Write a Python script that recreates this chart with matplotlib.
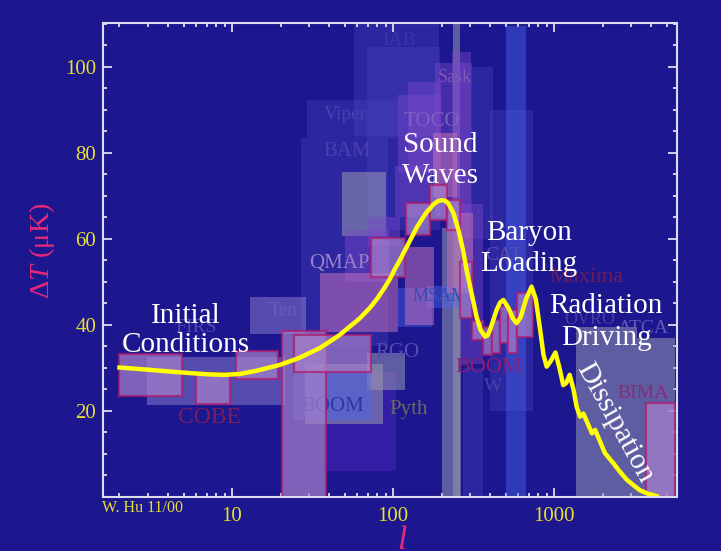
import matplotlib
matplotlib.use('Agg')
import matplotlib.pyplot as plt
from matplotlib.ticker import MultipleLocator, LogLocator, NullFormatter

plt.rcParams['font.family'] = ['Liberation Serif', 'DejaVu Serif']
plt.rcParams['mathtext.fontset'] = 'custom'
plt.rcParams['mathtext.rm'] = 'Liberation Serif'
plt.rcParams['mathtext.it'] = 'Liberation Serif:italic'

# curva teorica (l, Delta T en muK)
curva_l = [2, 3, 4, 5.5, 7.3, 9, 11.2, 14, 19.8, 26, 35, 46, 62, 72, 80, 88, 95, 102, 110,
           125, 141, 160, 178, 190, 200, 210, 220, 237, 255, 272, 286, 300, 315, 330,
           350, 372, 385, 400, 420, 440, 462, 484, 520, 555, 585, 620, 670, 725, 770,
           820, 860, 900, 950, 1020, 1080, 1140, 1190, 1250, 1320, 1380, 1450, 1520,
           1600, 1720, 1800, 1900, 2070, 2200, 2340, 2550, 2830, 3100, 3400, 3800, 4340]
curva_dT = [30.1, 29.6, 29.2, 28.8, 28.5, 28.4, 28.6, 29.3, 30.7, 32.3, 34.6, 37.5,
            41.5, 44, 46.2, 48.5, 50.5, 52.8, 55, 59, 62.8, 66, 68, 68.8, 69, 68.9, 68.3,
            66, 62, 57.4, 52.8, 49.2, 45.5, 41.9, 38.8, 37.3, 37.5, 38.8, 41.2, 43.5,
            45.2, 45.8, 44, 41.5, 40.4, 41.8, 46, 48.9, 46, 38.8, 33, 30.3, 31.5, 33.6,
            30, 26, 26.5, 28.4, 25, 21, 18.7, 19.4, 17.5, 14.8, 15.6, 13.5, 10.2, 9,
            7.8, 6, 4.0, 2.8, 1.6, 0.8, 0.2]

# cajas de los experimentos: l_min, l_max, dT_bajo, dT_alto, tipo
caja_lmin = [57, 69, 29.2, 26.8, 310, 400, 272,
             38.4,
             2.97, 12.9,
             48.2, 28.4, 69, 201, 236, 1371, 3281,
             504, 24.3, 107, 160,
             182, 232, 107, 124, 50, 260, 70, 103,
             35.2, 177, 119, 216,
             1.99, 5.97, 10.6, 20.4, 24.3, 72.8, 120.5, 170, 216, 260,
             308, 363, 411, 461, 520, 590, 3725]
caja_lmax = [193, 196, 107, 93, 418, 740, 362,
             104,
             21.3, 28.8,
             90.6, 86.7, 119, 264, 261, 3281, 5650,
             670, 72.6, 174, 260,
             310, 306, 199, 199, 95, 362, 110, 174,
             107, 250, 180, 315,
             4.89, 9.7, 19.3, 38.4, 72.6, 119, 170, 216, 260, 310,
             363, 411, 461, 520, 588, 741, 5650]
caja_bajo = [84, 62, 83.5, 35, 60, 20, 0,
             6,
             21.4, 38,
             60.7, 17, 24.9, 0, 0, 0, 0,
             0, 17.9, 39.5, 44,
             65, 60, 75.6, 75, 50, 31, 58.4, 65,
             38.4, 69.8, 40, 47.4,
             23.5, 21.6, 27.4, 0, 29.1, 51.2, 61, 64.4, 62, 41.6,
             36.5, 33, 33.4, 35.7, 33.4, 37.2, 0]
caja_alto = [110, 104.6, 92.3, 83.5, 100, 90, 30,
             29,
             32.6, 46.5,
             75.6, 31, 33.5, 62.5, 111, 39.5, 37,
             109.5, 29.1, 48.6, 49,
             101, 103.5, 93.5, 96.5, 62, 68, 65, 77,
             52.1, 84.7, 58, 66,
             33.3, 28.8, 34, 38.6, 37.7, 60.2, 68.4, 72.6, 69, 54.7,
             40.8, 39.6, 41.2, 44.3, 43.5, 47.4, 21.9]
caja_tipo = ['dim'] * 7 + ['dimpurple'] + ['lav'] * 2 + ['gray'] * 7 + ['blue'] * 4 + \
            ['purple'] * 8 + ['pink'] * 4 + ['pinkedge'] * 17

# nombres de experimentos
exp_nombre = ['IAB', 'Sask', 'Viper', 'TOCO', 'BAM', 'QMAP', 'Ten', 'FIRS', 'COBE', 'BOOM',
              'Pyth', 'RGO', 'MSAM', 'CAT', 'Maxima', 'BOOM', 'W', 'OVRO', 'ATCA', 'BIMA']
exp_l = [109, 243, 50.7, 174, 51.6, 46.3, 20.7, 5.97, 7.2, 42.1,
         125, 106, 196, 486, 1596, 394, 418, 1676, 3597, 3548]
exp_dT = [106, 97.6, 89, 87.3, 80.3, 54.3, 43.3, 39.4, 18.5, 21,
          20.3, 33.6, 46.7, 56.1, 51, 30.1, 25.6, 41.2, 39.2, 24]
exp_color = ['#3c34a6', '#7a58b8', '#4a42ac', '#7a62c0', '#4a42ac', '#9a80c8', '#6a5ab8',
             '#5448b0', '#7a1e5e', '#2838a8', '#6a6c58', '#5a4cb0', '#3a4cb4', '#5a50b4',
             '#6e1e5c', '#8e1e74', '#4a42a8', '#4a3ca6', '#6058b4', '#862c78']
exp_size = [14, 13, 14, 15, 15, 15, 14, 14, 17, 15, 15, 15, 13, 14, 16, 16, 14, 13, 14, 14]

# etiquetas de fisica
fis_texto = ['Initial', 'Conditions', 'Sound', 'Waves', 'Baryon', 'Loading',
             'Radiation', 'Driving']
fis_l = [5.18, 5.18, 197, 197, 700, 700, 2104, 2104]
fis_dT = [40.5, 33.8, 80.1, 73.0, 59.8, 52.6, 42.7, 35.3]

fondo = '#1c168f'
estilos = {
    'dim': dict(color='#4a44c0', alpha=0.35, z=1),
    'dimpurple': dict(color='#5a2ac8', alpha=0.4, z=1.2),
    'lav': dict(color='#9080d0', alpha=0.5, z=1.5),
    'gray': dict(color='#9898b0', alpha=0.55, z=2),
    'blue': dict(color='#4a68f0', alpha=0.42, z=2.2),
    'purple': dict(color='#7a48c8', alpha=0.45, z=2.4),
    'pink': dict(color='#c070b8', alpha=0.55, z=2.6),
    'pinkedge': dict(color='#a882cc', alpha=0.7, z=4),
}

fig = plt.figure(figsize=(7.21, 5.51), dpi=100, facecolor=fondo)
ax = fig.add_axes([103 / 721, 1 - 497 / 551, 574 / 721, 474.5 / 551])
ax.set_facecolor(fondo)
ax.set_xscale('log')

for tipo, st in estilos.items():
    idx = [i for i, t in enumerate(caja_tipo) if t == tipo]
    x0 = [caja_lmin[i] for i in idx]
    w = [caja_lmax[i] - caja_lmin[i] for i in idx]
    b = [caja_bajo[i] for i in idx]
    h = [caja_alto[i] - caja_bajo[i] for i in idx]
    if tipo == 'pinkedge':
        ax.bar(x0, h, width=w, bottom=b, align='edge', color=st['color'], alpha=st['alpha'],
               edgecolor='#b0186a', linewidth=1.6, zorder=st['z'])
    else:
        ax.bar(x0, h, width=w, bottom=b, align='edge', color=st['color'], alpha=st['alpha'],
               linewidth=0, zorder=st['z'])

for n, l, d, c, s in zip(exp_nombre, exp_l, exp_dT, exp_color, exp_size):
    ax.text(l, d, n, color=c, fontsize=s, ha='center', va='center', zorder=3)

ax.plot(curva_l, curva_dT, color='#ffff00', lw=3.2, solid_joinstyle='round', zorder=5)

for t, l, d in zip(fis_texto, fis_l, fis_dT):
    ax.text(l, d, t, color='white', fontsize=21, ha='center', va='baseline', zorder=6)
ax.text(2393, 17.2, 'Dissipation', color='white', fontsize=21, ha='center', va='center',
        rotation=-61, rotation_mode='anchor', zorder=6)

ax.set_xlim(1.58, 5800)
ax.set_ylim(0, 110.3)
ax.set_yticks([20, 40, 60, 80, 100])
ax.yaxis.set_minor_locator(MultipleLocator(5))
ax.set_xticks([10, 100, 1000])
ax.set_xticklabels(['10', '100', '1000'])
ax.xaxis.set_minor_locator(LogLocator(base=10, subs=range(2, 10)))
ax.xaxis.set_minor_formatter(NullFormatter())

eje = '#dcdcf0'
for sp in ax.spines.values():
    sp.set_color(eje)
    sp.set_linewidth(1.5)
    sp.set_zorder(7)
ax.tick_params(which='both', direction='in', top=True, right=True, color=eje, width=1.3,
               labelcolor='#e8e030', labelsize=15)
ax.tick_params(which='major', length=6.5)
ax.tick_params(which='minor', length=3)
ax.tick_params(axis='y', pad=5)
ax.tick_params(axis='x', pad=7)

fig.text(42 / 721, 1 - 251 / 551, r'$\Delta T$ (μK)', color='#e8287c', fontsize=20.5,
         rotation=90, ha='center', va='center')
fig.text(402 / 721, 0.003, r'$l$', color='#e8287c', fontsize=24, ha='center', va='baseline')
fig.text(102 / 721, 1 - 508 / 551, 'W. Hu 11/00', color='#e8e030', fontsize=11.5,
         ha='left', va='center')

fig.savefig('out.png', dpi=100, facecolor=fondo)
